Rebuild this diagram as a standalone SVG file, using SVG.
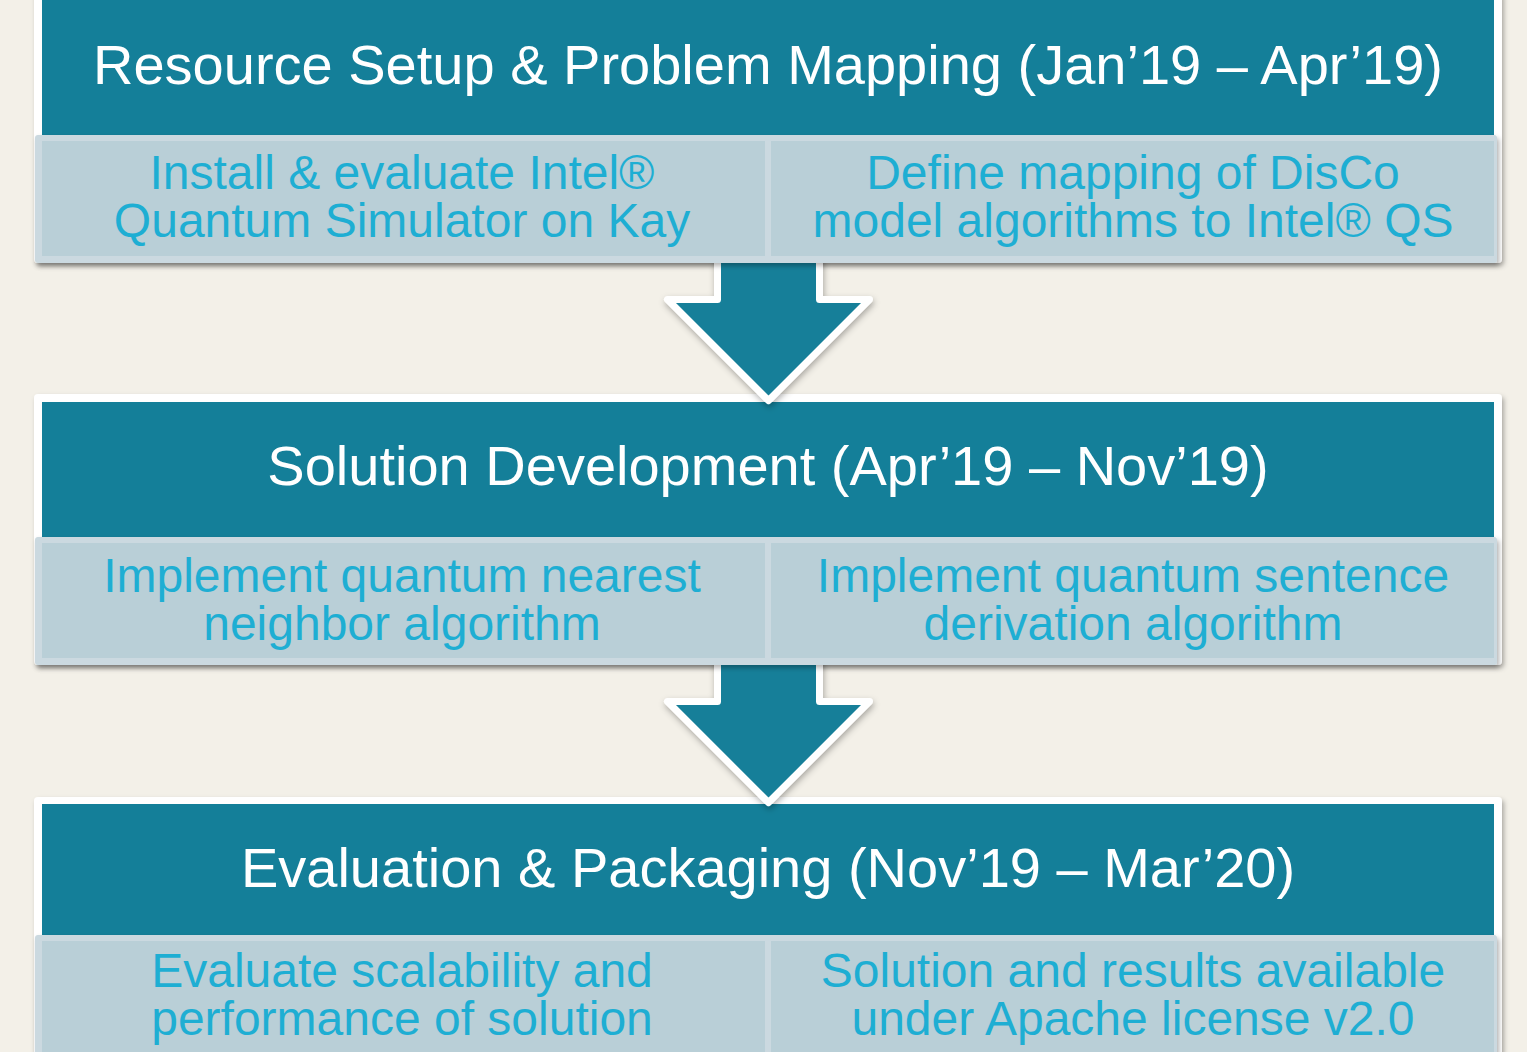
<svg xmlns="http://www.w3.org/2000/svg" width="1527" height="1052" viewBox="0 0 1527 1052">
  <defs>
    <filter id="sh" x="-5%" y="-5%" width="110%" height="115%">
      <feDropShadow dx="2" dy="3" stdDeviation="2.5" flood-color="#000" flood-opacity="0.3"/>
    </filter>
    <filter id="sha" x="-10%" y="-10%" width="120%" height="125%">
      <feDropShadow dx="1" dy="3" stdDeviation="3" flood-color="#000" flood-opacity="0.3"/>
    </filter>
  </defs>
  <style>
    .frame { fill: #ffffff; filter: url(#sh); }
    .head { fill: #147f99; }
    .htxt { font-family: "Liberation Sans", Arial, sans-serif; font-size: 56px; fill: #ffffff; text-anchor: middle; }
    .tborder { fill: #cbd9e0; filter: url(#sh); }
    .tfill { fill: #b9cfd7; }
    .ttxt { font-family: "Liberation Sans", Arial, sans-serif; font-size: 48px; fill: #1eaed3; text-anchor: middle; }
    .arrow { fill: #147f99; stroke: #ffffff; stroke-width: 7; stroke-linejoin: round; filter: url(#sha); }
  </style>
  <rect x="0" y="0" width="1527" height="1052" fill="#f3f0e8"/>

  <g id="phase1">
    <rect class="frame" x="34" y="-8" width="1468" height="271" rx="4"/>
    <rect class="head" x="42" y="0" width="1452" height="135"/>
    <text class="htxt" x="768" y="84">Resource Setup &amp; Problem Mapping (Jan’19 – Apr’19)</text>
  </g>
  <g id="phase2">
    <rect class="frame" x="34" y="394" width="1468" height="271" rx="4"/>
    <rect class="head" x="42" y="402" width="1452" height="135"/>
    <text class="htxt" x="768" y="485">Solution Development (Apr’19 – Nov’19)</text>
  </g>
  <g id="phase3">
    <rect class="frame" x="34" y="797" width="1468" height="280" rx="4"/>
    <rect class="head" x="42" y="804" width="1452" height="131"/>
    <text class="htxt" x="768" y="887">Evaluation &amp; Packaging (Nov’19 – Mar’20)</text>
  </g>

  <g id="connectors">
    <polygon class="arrow" points="717.5,250 819.5,250 819.5,299.5 869.5,299.5 768.5,400.5 667.5,299.5 717.5,299.5"/>
    <polygon class="arrow" points="717.5,652 819.5,652 819.5,701.5 869.5,701.5 768.5,802.5 667.5,701.5 717.5,701.5"/>
  </g>

  <g id="tasks1">
    <rect class="tborder" x="35" y="135" width="1462" height="128" rx="3"/>
    <g id="task1a">
      <rect class="tfill" x="42" y="141" width="723" height="115"/>
      <text class="ttxt" x="402" y="189">Install &amp; evaluate Intel®</text>
      <text class="ttxt" x="402" y="237">Quantum Simulator on Kay</text>
    </g>
    <g id="task1b">
      <rect class="tfill" x="771" y="141" width="723" height="115"/>
      <text class="ttxt" x="1133" y="189">Define mapping of DisCo</text>
      <text class="ttxt" x="1133" y="237">model algorithms to Intel® QS</text>
    </g>
  </g>
  <g id="tasks2">
    <rect class="tborder" x="35" y="537" width="1462" height="128" rx="3"/>
    <g id="task2a">
      <rect class="tfill" x="42" y="543" width="723" height="115"/>
      <text class="ttxt" x="402" y="592">Implement quantum nearest</text>
      <text class="ttxt" x="402" y="640">neighbor algorithm</text>
    </g>
    <g id="task2b">
      <rect class="tfill" x="771" y="543" width="723" height="115"/>
      <text class="ttxt" x="1133" y="592">Implement quantum sentence</text>
      <text class="ttxt" x="1133" y="640">derivation algorithm</text>
    </g>
  </g>
  <g id="tasks3">
    <rect class="tborder" x="35" y="935" width="1462" height="128" rx="3"/>
    <g id="task3a">
      <rect class="tfill" x="42" y="941" width="723" height="115"/>
      <text class="ttxt" x="402" y="987">Evaluate scalability and</text>
      <text class="ttxt" x="402" y="1035">performance of solution</text>
    </g>
    <g id="task3b">
      <rect class="tfill" x="771" y="941" width="723" height="115"/>
      <text class="ttxt" x="1133" y="987">Solution and results available</text>
      <text class="ttxt" x="1133" y="1035">under Apache license v2.0</text>
    </g>
  </g>
</svg>
